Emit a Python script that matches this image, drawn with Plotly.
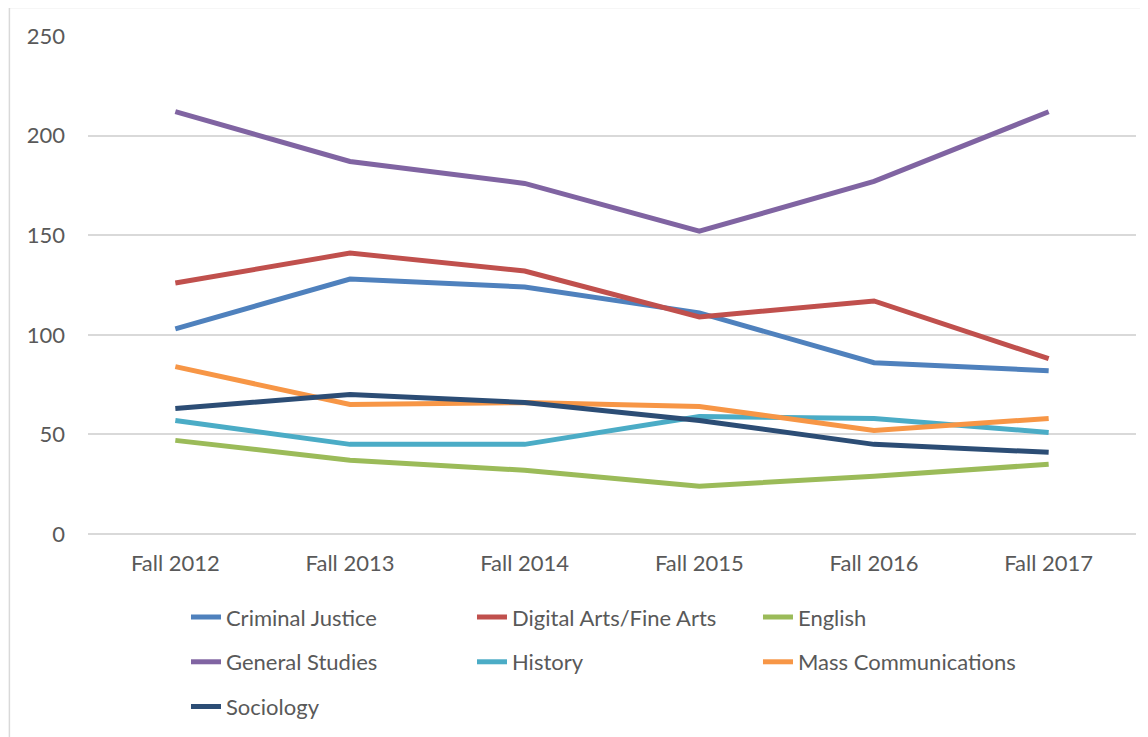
import plotly.graph_objects as go

terms = ['Fall 2012', 'Fall 2013', 'Fall 2014', 'Fall 2015', 'Fall 2016', 'Fall 2017']

criminal_justice = [103, 128, 124, 111, 86, 82]
digital_arts = [126, 141, 132, 109, 117, 88]
english = [47, 37, 32, 24, 29, 35]
general_studies = [212, 187, 176, 152, 177, 212]
history = [57, 45, 45, 59, 58, 51]
mass_comm = [84, 65, 66, 64, 52, 58]
sociology = [63, 70, 66, 57, 45, 41]

# name, values, colour, legend row
series = [
    ('Criminal Justice', criminal_justice, '#4F81BD', 'legend'),
    ('Digital Arts/Fine Arts', digital_arts, '#C0504D', 'legend'),
    ('English', english, '#9BBB59', 'legend'),
    ('General Studies', general_studies, '#8064A2', 'legend2'),
    ('History', history, '#4BACC6', 'legend2'),
    ('Mass Communications', mass_comm, '#F79646', 'legend2'),
    ('Sociology', sociology, '#2C4D75', 'legend3'),
]

FONT = 'Lato'
GREY = '#595959'
FSIZE = 22

fig = go.Figure()
for name, vals, color, leg in series:
    fig.add_trace(go.Scatter(
        x=terms, y=vals, name=name, mode='lines',
        line=dict(color=color, width=5),
        legend=leg,
    ))


def legend_row(y):
    return dict(
        orientation='h', x=0.0935, xanchor='left', y=y, yanchor='middle',
        entrywidth=241, entrywidthmode='pixels', itemwidth=30,
        font=dict(family=FONT, size=FSIZE, color=GREY),
        bgcolor='rgba(0,0,0,0)', traceorder='normal',
    )


# page body adds an 8px offset, so the figure is a little smaller than the window
fig.update_layout(
    width=1140, height=729,
    margin=dict(l=80, r=12, t=28, b=203, autoexpand=False),
    paper_bgcolor='white', plot_bgcolor='white',
    font=dict(family=FONT, size=FSIZE, color=GREY),
    legend=legend_row(-0.167),
    legend2=legend_row(-0.257),
    legend3=legend_row(-0.347),
    showlegend=True,
)
fig.update_xaxes(
    type='category', range=[-0.5, 5.5], showgrid=False, showline=False, ticks='',
    ticklabelstandoff=14,
    tickfont=dict(family=FONT, size=FSIZE, color=GREY),
)
fig.update_yaxes(
    range=[0, 250], dtick=50, showgrid=True, gridcolor='#D9D9D9', gridwidth=1.5,
    zeroline=True, zerolinecolor='#D9D9D9', zerolinewidth=1.5,
    ticks='', ticklabelstandoff=22,
    tickfont=dict(family=FONT, size=FSIZE, color=GREY),
)

# light chart-area border like the Excel frame
fig.add_shape(type='rect', xref='paper', yref='paper',
              x0=-0.075, x1=1.02, y0=-0.42, y1=1.057,
              line=dict(color='#D9D9D9', width=1.5), layer='below')

fig.write_html('out.html')
